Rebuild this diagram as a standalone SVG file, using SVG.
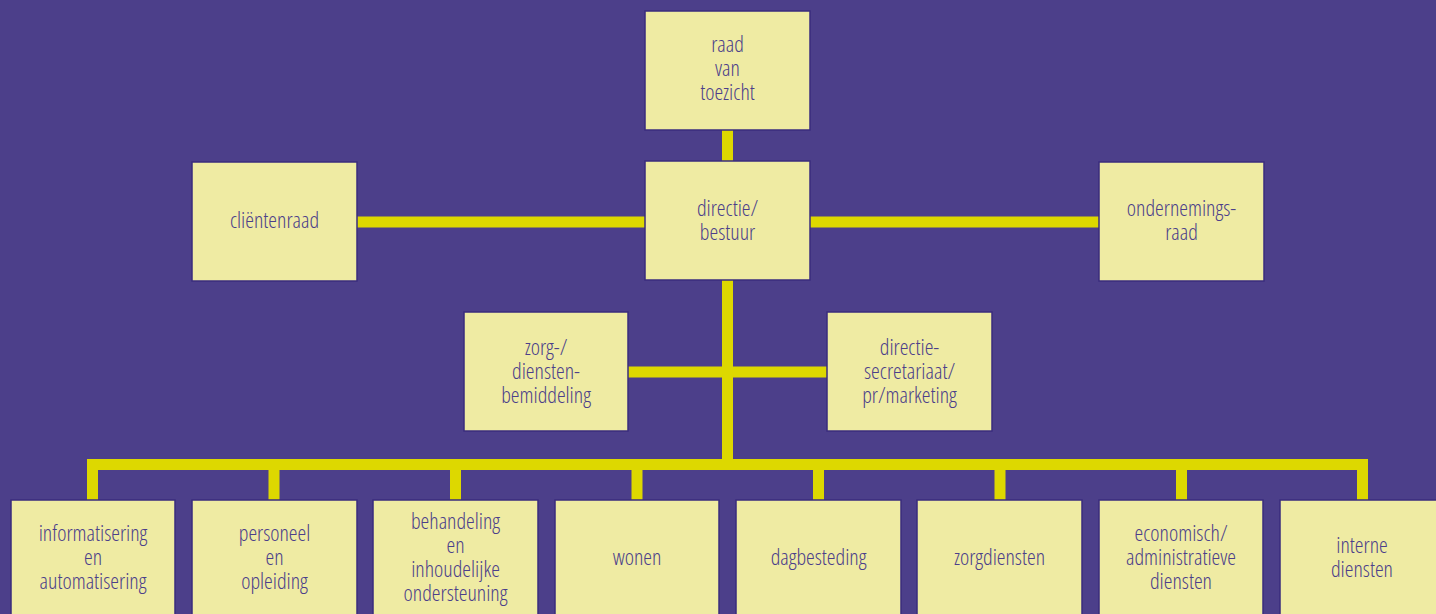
<svg xmlns="http://www.w3.org/2000/svg" width="1436" height="614" viewBox="0 0 1436 614">
<style>
.bg{fill:#4c3f8a}
.box{fill:#efeba3;stroke:#3a2d7e;stroke-width:1.5}
.con{fill:none;stroke:#ddd800;stroke-width:11;stroke-linejoin:miter;stroke-linecap:butt}
text{font-family:"Open Sans",sans-serif;font-stretch:75%;font-weight:350;font-size:22px;fill:#4c3f8a;text-anchor:middle}
</style>
<rect class="bg" x="0" y="0" width="1436" height="614"/>
<g id="connectors">
<path class="con" d="M727.5,130 V465"/>
<path class="con" d="M357,222 H645 M810,222 H1099"/>
<path class="con" d="M628,372 H827"/>
<path class="con" d="M92.5,500 V464.5 H1362.5 V500"/>
<path class="con" d="M274,464 V500 M455.5,464 V500 M637,464 V500 M818.5,464 V500 M1000,464 V500 M1181.5,464 V500"/>
</g>
<g id="raad-van-toezicht"><rect class="box" x="645" y="11" width="165" height="119"/><text x="727.5" y="52">raad</text><text x="727.5" y="76">van</text><text x="727.5" y="100">toezicht</text></g>
<g id="directie-bestuur"><rect class="box" x="645" y="161" width="165" height="119"/><text x="727.5" y="216">directie/</text><text x="727.5" y="240">bestuur</text></g>
<g id="clientenraad"><rect class="box" x="192" y="162" width="165" height="119"/><text x="274.5" y="228">cliëntenraad</text></g>
<g id="ondernemingsraad"><rect class="box" x="1099" y="162" width="165" height="119"/><text x="1181.5" y="216">ondernemings-</text><text x="1181.5" y="240">raad</text></g>
<g id="zorgbemiddeling"><rect class="box" x="464" y="312" width="164" height="119"/><text x="546" y="355">zorg-/</text><text x="546" y="379">diensten-</text><text x="546" y="403">bemiddeling</text></g>
<g id="directiesecretariaat"><rect class="box" x="827" y="312" width="165" height="119"/><text x="909.5" y="355">directie-</text><text x="909.5" y="379">secretariaat/</text><text x="909.5" y="403">pr/marketing</text></g>
<g id="informatisering"><rect class="box" x="11" y="500" width="164" height="130"/><text x="93" y="541">informatisering</text><text x="93" y="565">en</text><text x="93" y="589">automatisering</text></g>
<g id="personeel"><rect class="box" x="192" y="500" width="165" height="130"/><text x="274.5" y="541">personeel</text><text x="274.5" y="565">en</text><text x="274.5" y="589">opleiding</text></g>
<g id="behandeling"><rect class="box" x="373" y="500" width="165" height="130"/><text x="455.5" y="529">behandeling</text><text x="455.5" y="553">en</text><text x="455.5" y="577">inhoudelijke</text><text x="455.5" y="601">ondersteuning</text></g>
<g id="wonen"><rect class="box" x="555" y="500" width="164" height="130"/><text x="637" y="565">wonen</text></g>
<g id="dagbesteding"><rect class="box" x="736" y="500" width="165" height="130"/><text x="818.5" y="565">dagbesteding</text></g>
<g id="zorgdiensten"><rect class="box" x="917" y="500" width="165" height="130"/><text x="999.5" y="565">zorgdiensten</text></g>
<g id="economisch"><rect class="box" x="1099" y="500" width="164" height="130"/><text x="1181" y="541">economisch/</text><text x="1181" y="565">administratieve</text><text x="1181" y="589">diensten</text></g>
<g id="interne-diensten"><rect class="box" x="1280" y="500" width="170" height="130"/><text x="1362" y="553">interne</text><text x="1362" y="577">diensten</text></g>
</svg>
